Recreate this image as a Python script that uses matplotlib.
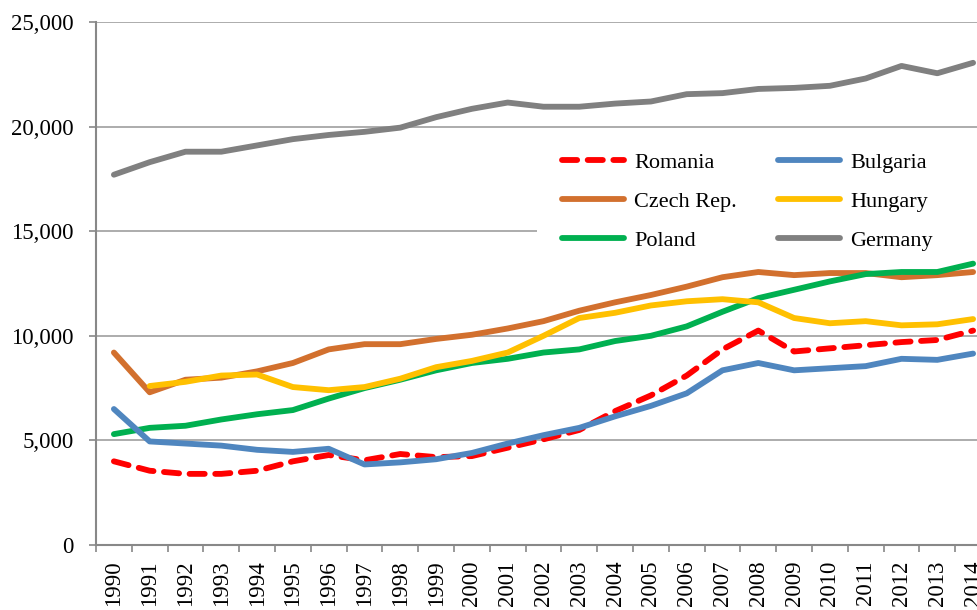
import matplotlib.pyplot as plt
from matplotlib.patches import Rectangle
import numpy as np

years = list(range(1990, 2015))

romania = [4000, 3550, 3400, 3400, 3550, 4000, 4300, 4050, 4350, 4200, 4250, 4650,
           5050, 5500, 6400, 7150, 8100, 9350, 10250, 9250, 9400, 9550, 9700, 9800, 10250]
bulgaria = [6500, 4950, 4850, 4750, 4550, 4450, 4600, 3850, 3950, 4100, 4400, 4850,
            5250, 5600, 6150, 6650, 7250, 8350, 8700, 8350, 8450, 8550, 8900, 8850, 9150]
czech = [9200, 7300, 7900, 8000, 8300, 8700, 9350, 9600, 9600, 9850, 10050, 10350,
         10700, 11200, 11600, 11950, 12350, 12800, 13050, 12900, 13000, 13000, 12800, 12900, 13050]
hungary = [np.nan, 7600, 7800, 8100, 8150, 7550, 7400, 7550, 7950, 8500, 8800, 9200,
           10000, 10850, 11100, 11450, 11650, 11750, 11600, 10850, 10600, 10700, 10500, 10550, 10800]
poland = [5300, 5600, 5700, 6000, 6250, 6450, 7000, 7500, 7900, 8350, 8700, 8900,
          9200, 9350, 9750, 10000, 10450, 11150, 11800, 12200, 12600, 12950, 13050, 13050, 13450]
germany = [17700, 18300, 18800, 18800, 19100, 19400, 19600, 19750, 19950, 20450, 20850, 21150,
           20950, 20950, 21100, 21200, 21550, 21600, 21800, 21850, 21950, 22300, 22900, 22550, 23050]

plt.rcParams['font.family'] = ['Liberation Serif', 'DejaVu Serif']

fig = plt.figure(figsize=(9.78, 6.10), dpi=100)
ax = fig.add_axes([96/978, 65/610, 895/978, 523/610])

lw = 4.2
ax.plot(years, romania, color='#FF0000', lw=lw, linestyle=(0, (2.6, 1.8)),
        dash_capstyle='round', solid_capstyle='round', label='Romania', zorder=3)
ax.plot(years, czech, color='#D2702E', lw=lw, solid_capstyle='round', label='Czech Rep.', zorder=3)
ax.plot(years, poland, color='#00B050', lw=lw, solid_capstyle='round', label='Poland', zorder=3)
ax.plot(years, bulgaria, color='#4F86BF', lw=lw, solid_capstyle='round', label='Bulgaria', zorder=3)
ax.plot(years, hungary, color='#FFC000', lw=lw, solid_capstyle='round', label='Hungary', zorder=3)
ax.plot(years, germany, color='#808080', lw=lw, solid_capstyle='round', label='Germany', zorder=3)

ax.set_xlim(1989.5, 2014.5)
ax.set_ylim(0, 25000)
ax.set_yticks(range(0, 25001, 5000))
ax.set_yticklabels([f'{v:,}' for v in range(0, 25001, 5000)], fontsize=16.5)
ax.set_xticks(years)
ax.set_xticklabels([str(y) for y in years], rotation=90, fontsize=16.5)
ax.set_xticks(np.arange(1989.5, 2015, 1), minor=True)
ax.tick_params(axis='x', which='major', length=0, pad=11)
ax.tick_params(axis='x', which='minor', length=5, color='#888888', width=1.2)
ax.tick_params(axis='y', length=5, color='#888888', width=1.2, pad=11)

ax.grid(axis='y', color='#A6A6A6', lw=1.3, zorder=0)
for s in ['top', 'right']:
    ax.spines[s].set_visible(False)
for s in ['left', 'bottom']:
    ax.spines[s].set_color('#888888')
    ax.spines[s].set_linewidth(1.5)

# white legend background running out to the right edge
ax.add_patch(Rectangle((0.4927, 0.541), 0.6, 0.25, transform=ax.transAxes,
                       facecolor='white', edgecolor='none', zorder=2, clip_on=False))

leg = ax.legend(ncol=2, loc='upper left', bbox_to_anchor=(0.493, 0.797), fontsize=16,
                frameon=False, handlelength=2.8, handletextpad=0.45, columnspacing=1.85,
                labelspacing=0.82, borderpad=0.6)
leg.set_zorder(4)

fig.savefig('out.png', dpi=100)
